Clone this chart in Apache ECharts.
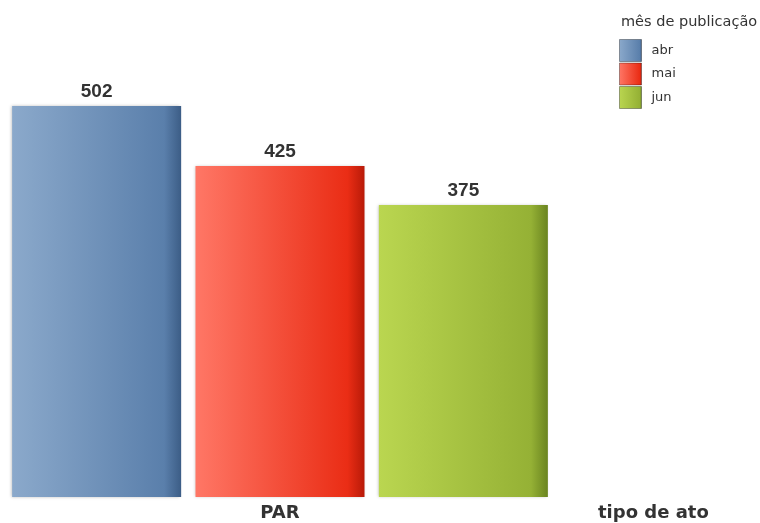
<!DOCTYPE html>
<html><head><meta charset="utf-8">
<script src="https://cdn.jsdelivr.net/npm/echarts@6/dist/echarts.min.js"></script>
<style>html,body{margin:0;padding:0;background:#fff}#c{width:760px;height:523px}</style>
</head><body><div id="c"></div>
<script>
const categories = ['PAR'];
const seriesNames = ['abr', 'mai', 'jun'];
const seriesValues = [[502], [425], [375]];
const gradients = [
  ['#8ba9cb', '#5a7fab', '#3c5d86'],
  ['#ff7766', '#ea2d15', '#b81a08'],
  ['#bad650', '#95b135', '#6a8420']
];
function grad(c) {
  return new echarts.graphic.LinearGradient(0, 0, 1, 0, [
    {offset: 0, color: c[0]}, {offset: 0.9, color: c[1]}, {offset: 1, color: c[2]}
  ]);
}
const chart = echarts.init(document.getElementById('c'));
chart.setOption({
  animation: false,
  textStyle: {fontFamily: 'DejaVu Sans, sans-serif'},
  title: {text: 'mês de publicação', left: 621, top: 15, padding: 0,
    textStyle: {fontSize: 14.5, fontWeight: 'normal', color: '#333', fontFamily: 'DejaVu Sans'}},
  legend: {orient: 'vertical', left: 619, top: 39, padding: 0, itemWidth: 22, itemHeight: 22, itemGap: 0.5,
    icon: 'rect', itemStyle: {borderColor: 'rgba(0,0,0,0.35)', borderWidth: 1},
    textStyle: {fontSize: 13, color: '#333', fontFamily: 'DejaVu Sans', padding: [0,0,0,5]}, data: seriesNames},
  grid: {left: 0, right: 200, top: 106, bottom: 26},
  xAxis: {type: 'category', data: categories, name: 'tipo de ato', nameLocation: 'end', nameGap: 38,
    nameTextStyle: {fontSize: 18, fontWeight: 'bold', color: '#333', verticalAlign: 'top', padding: [7,0,0,0], fontFamily: 'DejaVu Sans'},
    axisLine: {show: false}, axisTick: {show: false},
    axisLabel: {fontSize: 18, fontWeight: 'bold', color: '#333', margin: 7, fontFamily: 'DejaVu Sans'}},
  yAxis: {type: 'value', min: 0, max: 502, show: false, splitLine: {show: false}},
  series: seriesNames.map((n, i) => ({
    name: n, type: 'bar', data: seriesValues[i], barWidth: 169, barGap: '8.5%',
    itemStyle: {color: grad(gradients[i]), shadowColor: 'rgba(0,0,0,0.25)', shadowBlur: 3, shadowOffsetX: -1},
    label: {show: true, position: 'top', distance: 5, fontSize: 19, fontWeight: 'bold', color: '#333',
      fontFamily: 'Liberation Sans Narrow, Liberation Sans'}
  }))
});
</script></body></html>
